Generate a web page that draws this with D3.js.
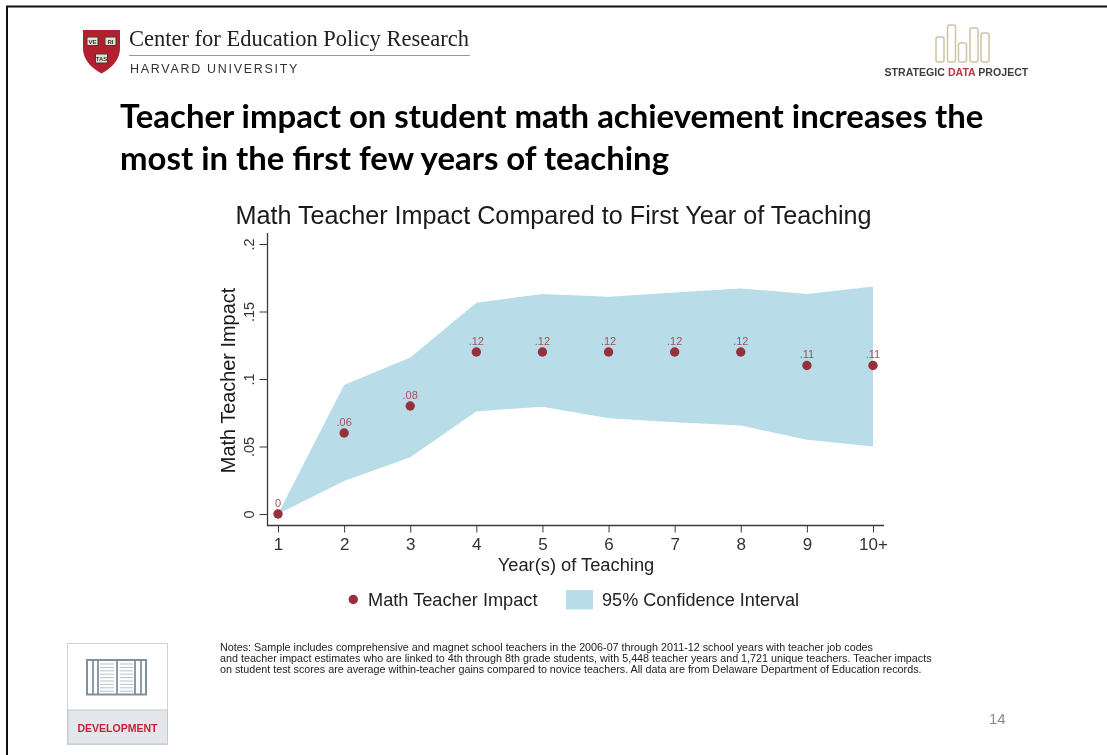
<!DOCTYPE html>
<html>
<head>
<meta charset="utf-8">
<script src="https://cdn.jsdelivr.net/npm/d3@7"></script>
<style>
  html, body { margin: 0; padding: 0; background: #fff; }
  svg { display: block; filter: blur(.35px); }
</style>
</head>
<body>
<svg id="slide" width="1107" height="755"></svg>
<script>
// values
const years = ['1','2','3','4','5','6','7','8','9','10+']
const impact = [0, .06, .08, .12, .12, .12, .12, .12, .11, .11]
const impactLabels = ['0','.06','.08','.12','.12','.12','.12','.12','.11','.11']
const ciUpper = [0, .0955, .116, .1565, .163, .161, .164, .167, .163, .1685]
const ciLower = [0, .0245, .042, .076, .0795, .071, .068, .0655, .055, .05]
const yTicks = [0, .05, .1, .15, .2]
const yTickLabels = ['0','.05','.1','.15','.2']

const headline = [
  'Teacher impact on student math achievement increases the',
  'most in the first few years of teaching'
]
const notes = [
  'Notes: Sample includes comprehensive and magnet school teachers in the 2006-07 through 2011-12 school years with teacher job codes',
  'and teacher impact estimates who are linked to 4th through 8th grade students, with 5,448 teacher years and 1,721 unique teachers. Teacher impacts',
  'on student test scores are average within-teacher gains compared to novice teachers. All data are from Delaware Department of Education records.'
]
const logoBars = [[936,37,8,25],[947.5,25,8,37],[958.5,43,8,19],[970,28,8,34],[981,33,8,29]]
const shieldBooks = [[87,37,11,8.5,'VE'],[105,37,11,8.5,'RI'],[95.5,54,12,9,'TAS']]

const SANS = '"Liberation Sans", Arial, sans-serif'
const BURGUNDY = '#97303c'
const BAND = '#b9dde8'
const AXIS = '#3a3a3a'

const svg = d3.select('#slide')

// slide frame
svg.append('path')
  .attr('d', 'M7,755V6.5H1107')
  .attr('fill', 'none')
  .attr('stroke', '#111')
  .attr('stroke-width', 2)

// ---- chart ----
const xScale = d3.scalePoint().domain(years).range([278, 873])
const yScale = d3.scaleLinear().domain([0, .2]).range([514, 244])

const area = d3.area()
  .x((d, i) => xScale(years[i]))
  .y0((d, i) => yScale(ciLower[i]))
  .y1((d, i) => yScale(ciUpper[i]))

svg.append('path')
  .datum(years)
  .attr('d', area)
  .attr('fill', BAND)

const xAxis = svg.append('g')
  .attr('transform', 'translate(0,525.5)')
  .call(d3.axisBottom(xScale).tickSize(8).tickPadding(4.9))
xAxis.select('.domain').remove()
xAxis.append('line')
  .attr('x1', 267).attr('x2', 884)
  .attr('stroke', AXIS).attr('stroke-width', 1.3)
xAxis.selectAll('.tick line').attr('stroke', AXIS).attr('y2', 7)
xAxis.selectAll('.tick text')
  .attr('fill', '#333')
  .style('font', '17px ' + SANS)

const yAxis = svg.append('g')
  .attr('transform', 'translate(267.5,0)')
  .call(d3.axisLeft(yScale).tickValues(yTicks).tickFormat((d, i) => yTickLabels[i]).tickSize(8))
yAxis.select('.domain').remove()
yAxis.append('line')
  .attr('y1', 233).attr('y2', 526)
  .attr('stroke', AXIS).attr('stroke-width', 1.3)
yAxis.selectAll('.tick line').attr('stroke', AXIS)
yAxis.selectAll('.tick text')
  .attr('fill', '#333')
  .attr('text-anchor', 'middle')
  .attr('x', 0)
  .attr('dy', 0)
  .attr('transform', 'translate(-13.5,0) rotate(-90)')
  .style('font', '14.5px ' + SANS)

svg.selectAll('.dot')
  .data(impact)
  .enter().append('circle')
  .attr('class', 'dot')
  .attr('cx', (d, i) => xScale(years[i]))
  .attr('cy', d => yScale(d))
  .attr('r', 4.7)
  .attr('fill', BURGUNDY)

svg.selectAll('.dot-label')
  .data(impact)
  .enter().append('text')
  .attr('class', 'dot-label')
  .attr('x', (d, i) => xScale(years[i]))
  .attr('y', d => yScale(d) - 7.5)
  .attr('text-anchor', 'middle')
  .attr('fill', '#a5505c')
  .style('font', '11px ' + SANS)
  .text((d, i) => impactLabels[i])

svg.append('text')
  .attr('x', 553.5).attr('y', 224)
  .attr('text-anchor', 'middle')
  .attr('fill', '#1a1a1a')
  .style('font', '25.2px ' + SANS)
  .text('Math Teacher Impact Compared to First Year of Teaching')

svg.append('text')
  .attr('transform', 'translate(235,380.5) rotate(-90)')
  .attr('text-anchor', 'middle')
  .attr('fill', '#1a1a1a')
  .style('font', '19.9px ' + SANS)
  .text('Math Teacher Impact')

svg.append('text')
  .attr('x', 576).attr('y', 571)
  .attr('text-anchor', 'middle')
  .attr('fill', '#222')
  .style('font', '18.3px ' + SANS)
  .text('Year(s) of Teaching')

// legend
svg.append('circle').attr('cx', 353.3).attr('cy', 599.5).attr('r', 4.7).attr('fill', BURGUNDY)
svg.append('text').attr('x', 368).attr('y', 606)
  .attr('fill', '#222').style('font', '18.2px ' + SANS).text('Math Teacher Impact')
svg.append('rect').attr('x', 566).attr('y', 590).attr('width', 27).attr('height', 19.5).attr('fill', BAND)
svg.append('text').attr('x', 602).attr('y', 606)
  .attr('fill', '#222').style('font', '18.1px ' + SANS).text('95% Confidence Interval')

// ---- slide furniture ----
svg.selectAll('.headline')
  .data(headline)
  .enter().append('text')
  .attr('class', 'headline')
  .attr('x', 120)
  .attr('y', (d, i) => 128 + i * 41.7)
  .attr('fill', '#000')
  .style('font', 'bold 32.9px Lato, "Open Sans", sans-serif')
  .text(d => d)

svg.selectAll('.note')
  .data(notes)
  .enter().append('text')
  .attr('class', 'note')
  .attr('x', 220)
  .attr('y', (d, i) => 651 + i * 10.9)
  .attr('fill', '#222')
  .style('font', '10.75px ' + SANS)
  .text(d => d)

svg.append('text').attr('x', 989).attr('y', 723.5)
  .attr('fill', '#8a8a8a').style('font', '15px ' + SANS).text('14')

// harvard shield
const shield = svg.append('g')
shield.append('path')
  .attr('d', 'M83,30H120V48C120,62 108,70 101.5,73.5C95,70 83,62 83,48Z')
  .attr('fill', '#b0202f')
shield.selectAll('rect')
  .data(shieldBooks)
  .enter().append('rect')
  .attr('x', d => d[0]).attr('y', d => d[1])
  .attr('width', d => d[2]).attr('height', d => d[3])
  .attr('fill', '#e6e0d0').attr('stroke', '#4a3a2a').attr('stroke-width', 1)
shield.selectAll('text')
  .data(shieldBooks)
  .enter().append('text')
  .attr('x', d => d[0] + d[2] / 2).attr('y', d => d[1] + 6.5)
  .attr('text-anchor', 'middle')
  .attr('fill', '#333')
  .style('font', 'bold 6px ' + SANS)
  .text(d => d[4])

svg.append('text').attr('x', 129).attr('y', 46)
  .attr('fill', '#222').style('font', '22.5px "Liberation Serif", serif')
  .text('Center for Education Policy Research')
svg.append('line').attr('x1', 129).attr('x2', 470).attr('y1', 55.5).attr('y2', 55.5)
  .attr('stroke', '#999').attr('stroke-width', 1)
svg.append('text').attr('x', 130).attr('y', 73)
  .attr('fill', '#333').attr('letter-spacing', 1.7)
  .style('font', '12.5px ' + SANS).text('HARVARD UNIVERSITY')

// strategic data project logo
svg.selectAll('.logo-bar')
  .data(logoBars)
  .enter().append('rect')
  .attr('class', 'logo-bar')
  .attr('x', d => d[0]).attr('y', d => d[1])
  .attr('width', d => d[2]).attr('height', d => d[3])
  .attr('rx', 2)
  .attr('fill', 'none').attr('stroke', '#cfc4a6').attr('stroke-width', 1.5)
const sdp = svg.append('text').attr('x', 884.5).attr('y', 76)
  .attr('fill', '#3f3f3f').style('font', 'bold 10.6px ' + SANS)
sdp.append('tspan').text('STRATEGIC ')
sdp.append('tspan').attr('fill', '#c0303f').text('DATA ')
sdp.append('tspan').text('PROJECT')

// development badge
svg.append('rect').attr('x', 67.5).attr('y', 643.5).attr('width', 100).attr('height', 101)
  .attr('fill', '#fff').attr('stroke', '#ccd2d8')
svg.append('rect').attr('x', 68).attr('y', 710).attr('width', 99.5).attr('height', 34)
  .attr('fill', '#e3e6ea').attr('stroke', '#c4cad0')
svg.append('rect').attr('x', 87).attr('y', 660).attr('width', 59).attr('height', 34.5)
  .attr('fill', '#fff').attr('stroke', '#7e919f').attr('stroke-width', 2)
svg.selectAll('.spine')
  .data([93, 98, 117, 135, 141])
  .enter().append('line')
  .attr('class', 'spine')
  .attr('x1', d => d).attr('x2', d => d).attr('y1', 660).attr('y2', 694.5)
  .attr('stroke', '#7e919f').attr('stroke-width', 1.8)
svg.selectAll('.page-line')
  .data(d3.range(664, 692, 3.4))
  .enter().append('path')
  .attr('class', 'page-line')
  .attr('d', d => `M100,${d}H114M120,${d}H133`)
  .attr('stroke', '#b9c2c9').attr('stroke-width', 1)
svg.append('text').attr('x', 117.5).attr('y', 732)
  .attr('text-anchor', 'middle')
  .attr('fill', '#c2223a')
  .style('font', 'bold 10.5px ' + SANS)
  .text('DEVELOPMENT')
</script>
</body>
</html>
